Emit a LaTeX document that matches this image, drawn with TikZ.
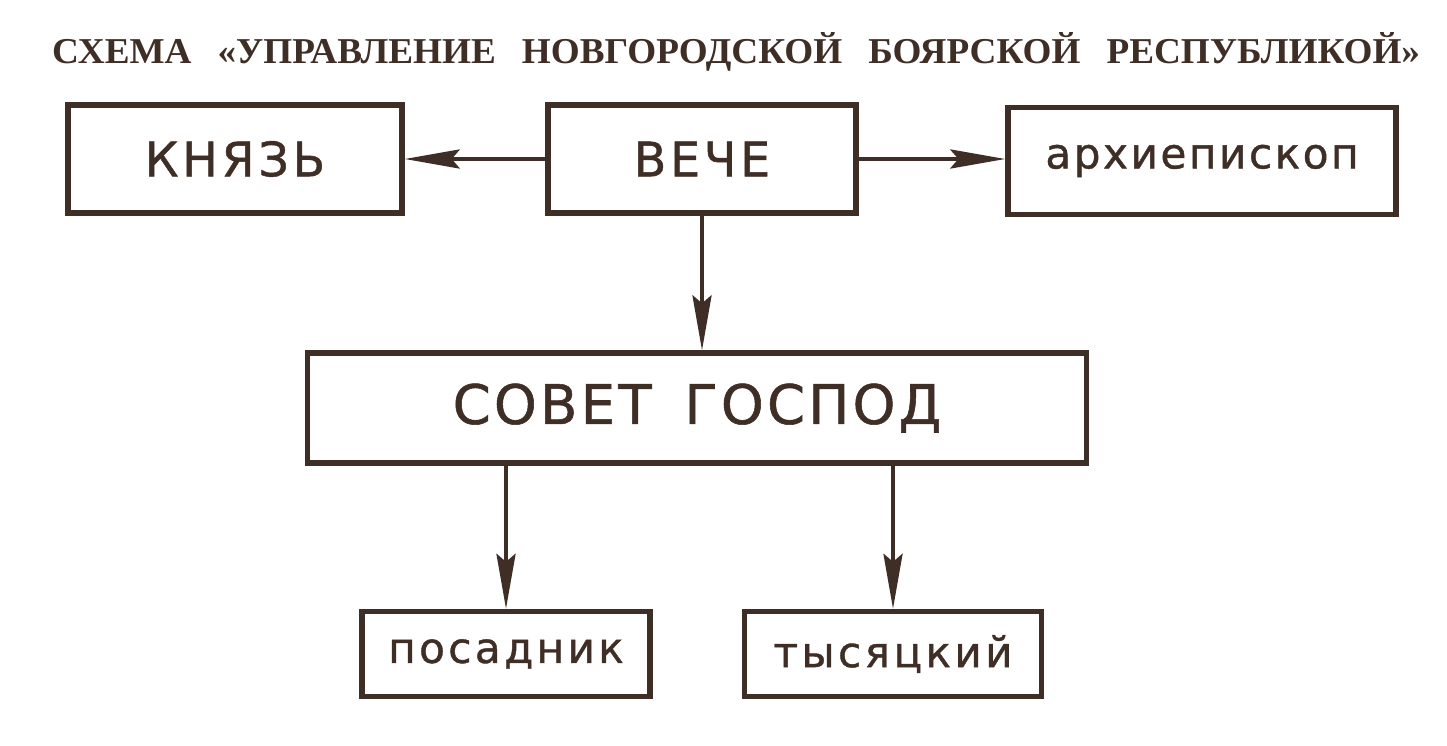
\documentclass[tikz,border=0pt]{standalone}
\usepackage{fontspec}
\usepackage{graphicx}
\usetikzlibrary{arrows.meta}
\newfontfamily\titlefont{Liberation Serif}
\newfontfamily\boxfont[LetterSpace=8,FakeBold=1]{DejaVu Sans}
\definecolor{ink}{RGB}{62,46,38}

\begin{document}
\begin{tikzpicture}[
		x=1cm, y=-1cm,
		box/.style={draw=ink, line width=1.5pt, text=ink, inner sep=0pt, font=\boxfont},
		bigtext/.style={font=\boxfont\addfontfeature{LetterSpace=6}\fontsize{15.5}{18}\selectfont},
		captext/.style={font=\boxfont\fontsize{13.5}{16}\selectfont},
		smalltext/.style={font=\boxfont\fontsize{12}{14}\selectfont},
		tighttext/.style={font=\boxfont\addfontfeature{LetterSpace=6}\fontsize{12}{14}\selectfont},
		link/.style={draw=ink, line width=1.3pt, -{Stealth[length=5.5mm,width=1.9mm,inset=0.8mm]}}
		]
	\useasboundingbox (0,0) rectangle (14.47,7.45);
	\node[text=ink, inner sep=0pt] (title) at (7.36,0.52)
		{\resizebox{13.68cm}{0.31cm}{\titlefont\bfseries СХЕМА\hspace{0.7em}«УПРАВЛЕНИЕ\hspace{0.7em}НОВГОРОДСКОЙ\hspace{0.7em}БОЯРСКОЙ\hspace{0.7em}РЕСПУБЛИКОЙ»}};
	\node[box, captext, minimum width=3.34cm, minimum height=1.08cm] (knyaz) at (2.35,1.59) {КНЯЗЬ};
	\node[box, captext, minimum width=3.08cm, minimum height=1.08cm] (veche) at (7.02,1.59) {ВЕЧЕ};
	\node[box, tighttext, minimum width=3.88cm, minimum height=1.07cm] (arkh) at (12.02,1.61) {архиепископ};
	\node[box, bigtext, minimum width=7.79cm, minimum height=1.10cm] (sovet) at (6.97,4.08) {СОВЕТ\hspace{0.6em}ГОСПОД};
	\node[box, smalltext, minimum width=2.88cm, minimum height=0.85cm] (posad) at (5.06,6.54) {посадник};
	\node[box, smalltext, minimum width=2.97cm, minimum height=0.85cm] (tys) at (8.93,6.54) {тысяцкий};
	\draw[link] (veche.west) -- (knyaz.east);
	\draw[link] (veche.east) -- (arkh.west |- veche.east);
	\draw[link] (veche.south) -- (veche.south |- sovet.north);
	\draw[link] (posad.north |- sovet.south) -- (posad.north);
	\draw[link] (tys.north |- sovet.south) -- (tys.north);
\end{tikzpicture}
\end{document}
